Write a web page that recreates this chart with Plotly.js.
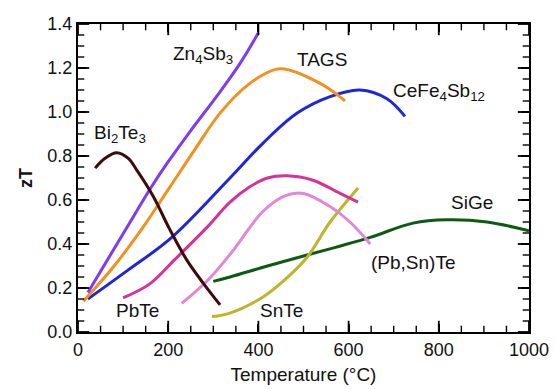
<!DOCTYPE html>
<html>
<head>
<meta charset="utf-8">
<script src="https://cdn.plot.ly/plotly-3.0.1.min.js"></script>
<style>html,body{margin:0;padding:0;background:#fff;}#chart{width:555px;height:389px;}</style>
</head>
<body>
<div id="chart"></div>
<script>
// Data (Temperature in °C, zT)
const zn4sb3_T  = [22, 104, 163, 197, 248, 307, 359, 400];
const zn4sb3_zT = [0.18, 0.46, 0.66, 0.765, 0.91, 1.07, 1.22, 1.36];

const tags_T  = [12, 80, 142, 204, 256, 315, 381, 440, 470, 537, 574, 592];
const tags_zT = [0.14, 0.30, 0.47, 0.66, 0.82, 0.995, 1.13, 1.195, 1.19, 1.13, 1.08, 1.05];

const cefe_T  = [22, 110, 208, 337, 411, 486, 559, 625, 685, 725];
const cefe_zT = [0.15, 0.28, 0.43, 0.70, 0.86, 0.995, 1.07, 1.10, 1.06, 0.98];

const bite_T  = [38, 60, 86, 111, 130, 167, 204, 241, 278, 315];
const bite_zT = [0.745, 0.79, 0.815, 0.79, 0.737, 0.616, 0.464, 0.328, 0.221, 0.123];

const pbte_T  = [100, 160, 215, 288, 337, 381, 420, 463, 521, 581, 621];
const pbte_zT = [0.155, 0.22, 0.33, 0.48, 0.59, 0.66, 0.70, 0.71, 0.69, 0.63, 0.59];

const pbsnte_T  = [230, 290, 340, 411, 460, 500, 559, 603, 648];
const pbsnte_zT = [0.13, 0.24, 0.36, 0.55, 0.62, 0.63, 0.57, 0.50, 0.40];

const snte_T  = [297, 337, 411, 460, 508, 559, 621];
const snte_zT = [0.07, 0.086, 0.16, 0.24, 0.34, 0.50, 0.655];

const sige_T  = [300, 337, 420, 508, 580, 648, 743, 818, 907, 1000];
const sige_zT = [0.23, 0.25, 0.30, 0.35, 0.39, 0.43, 0.495, 0.51, 0.50, 0.46];

const xRange = [0, 1000], yRange = [0, 1.4];
const xTickStep = 200, xMinorStep = 50;
const yTickStep = 0.2, yMinorStep = 0.05;

function line(x, y, color, name) {
  return {x: x, y: y, name: name, type: 'scatter', mode: 'lines',
          line: {color: color, width: 3, shape: 'spline', smoothing: 1.0},
          hoverinfo: 'skip', showlegend: false};
}

// Axis tick decorations (inside, on all four sides), generated from the axis steps
function steps(lo, hi, st) {
  const out = [];
  const n = Math.round((hi - lo) / st);
  for (let i = 0; i <= n; i++) out.push(+(lo + i * st).toFixed(6));
  return out;
}
function tickMarks(major, minorStep, step, range, otherRange, vertical) {
  const all = steps(range[0], range[1], minorStep);
  const traces = [];
  [[true, 16], [false, 9]].forEach(([isMajor, size]) => {
    const pos = all.filter(v => {
      const r = Math.abs(v / step - Math.round(v / step)) < 1e-6;
      return isMajor ? r : !r;
    });
    const a = [], b = [];
    pos.forEach(v => { a.push(v, v); b.push(otherRange[0], otherRange[1]); });
    traces.push({
      x: vertical ? a : b, y: vertical ? b : a, type: 'scatter', mode: 'markers',
      cliponaxis: true, hoverinfo: 'skip', showlegend: false,
      marker: {symbol: vertical ? 'line-ns' : 'line-ew', size: size, color: '#000',
               line: {width: isMajor ? 1.8 : 1.4, color: '#000'}}
    });
  });
  return traces;
}

const traces = [
  line(sige_T, sige_zT, '#0d5a14', 'SiGe'),
  line(snte_T, snte_zT, '#bdb52a', 'SnTe'),
  line(pbsnte_T, pbsnte_zT, '#e286d8', '(Pb,Sn)Te'),
  line(pbte_T, pbte_zT, '#d43497', 'PbTe'),
  line(cefe_T, cefe_zT, '#1d26de', 'CeFe4Sb12'),
  line(tags_T, tags_zT, '#f5901f', 'TAGS'),
  line(zn4sb3_T, zn4sb3_zT, '#7d3cf3', 'Zn4Sb3'),
  line(bite_T, bite_zT, '#3e0a0c', 'Bi2Te3')
].concat(
  tickMarks(true, xMinorStep, xTickStep, xRange, yRange, true),
  tickMarks(true, yMinorStep, yTickStep, yRange, xRange, false)
);

const fam = 'Liberation Sans, Arial, sans-serif';
function lab(text, x, y, xanchor) {
  return {text: text, x: x, y: y, xref: 'x', yref: 'y', showarrow: false,
          xanchor: xanchor || 'center', yanchor: 'middle',
          font: {family: fam, size: 19, color: '#111'}};
}

const layout = {
  width: 555, height: 389,
  margin: {l: 78, r: 26, t: 24, b: 57},
  font: {family: fam, color: '#111'},
  xaxis: {
    range: xRange, dtick: xTickStep,
    ticks: 'inside', ticklen: 8, tickwidth: 2, tickcolor: 'black',
    showline: true, linewidth: 2, linecolor: 'black', mirror: 'ticks',
    showgrid: false, zeroline: false,
    tickfont: {family: fam, size: 18, color: '#111'},
    title: {text: 'Temperature (°C)', font: {family: fam, size: 19, color: '#111'}, standoff: 9}
  },
  yaxis: {
    range: yRange, dtick: yTickStep, tickformat: '.1f',
    ticks: 'inside', ticklen: 8, tickwidth: 2, tickcolor: 'black',
    showline: true, linewidth: 2, linecolor: 'black', mirror: 'ticks',
    showgrid: false, zeroline: false,
    tickfont: {family: fam, size: 18, color: '#111'},
    title: {text: '<b>zT</b>', font: {family: fam, size: 18, color: '#111'}, standoff: 10}
  },
  annotations: [
    lab('Zn<sub>4</sub>Sb<sub>3</sub>', 207, 1.26, 'left'),
    lab('TAGS', 541, 1.24),
    lab('CeFe<sub>4</sub>Sb<sub>12</sub>', 694, 1.09, 'left'),
    lab('Bi<sub>2</sub>Te<sub>3</sub>', 30, 0.90, 'left'),
    lab('PbTe', 131, 0.096),
    lab('SnTe', 452, 0.10),
    lab('(Pb,Sn)Te', 743, 0.314),
    lab('SiGe', 874, 0.587)
  ]
};

Plotly.newPlot('chart', traces, layout, {displayModeBar: false});
</script>
</body>
</html>
